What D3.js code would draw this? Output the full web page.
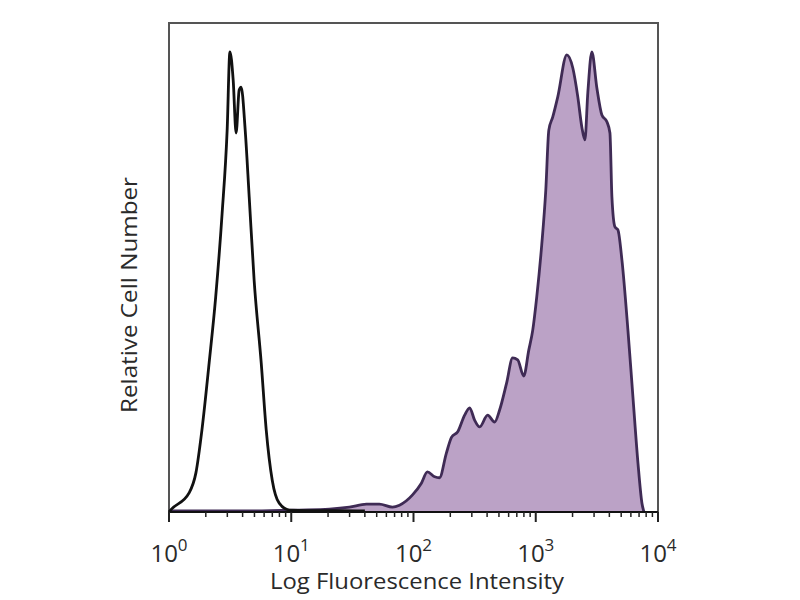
<!DOCTYPE html>
<html>
<head>
<meta charset="utf-8">
<script src="https://cdn.jsdelivr.net/npm/d3@7"></script>
<style>
  body { margin: 0; background: #fff; }
  svg { display: block; }
</style>
</head>
<body>
<div id="chart"></div>
<script>
"use strict";

// control (unstained) histogram: [intensity, relative count]
const controlData = [
  [1.0, 0], [1.03, 0.4], [1.46, 3.9], [1.66, 8.0], [1.86, 16.8], [2.13, 30.5],
  [2.41, 44.0], [2.72, 61.1], [2.99, 78.1], [3.15, 94.1], [3.35, 88.3],
  [3.54, 77.5], [3.75, 86.3], [3.89, 86.9], [4.2, 78.1], [4.53, 64.4],
  [4.97, 47.4], [5.68, 30.5], [6.24, 16.8], [6.99, 6.5], [7.97, 1.8],
  [9.63, 0.4], [13.3, 0.3], [25, 0.3], [40, 0.2]
];

// stained histogram
const stainedData = [
  [1.0, 0.2], [4.53, 0.2], [11.6, 0.4], [20.5, 0.6], [29.9, 1.0], [41.2, 1.6],
  [52.6, 1.6], [67.3, 1.0], [76.8, 1.4], [98.2, 3.5], [116, 5.9], [130, 8.2],
  [149, 7.2], [163, 7.0], [186, 12.1], [205, 15.3], [230, 16.4], [262, 19.8],
  [288, 21.3], [316, 18.8], [348, 17.4], [404, 19.8], [461, 18.4], [507, 20.9],
  [578, 26.4], [647, 31.5], [712, 31.1], [797, 27.8], [877, 33.1], [945, 37.2],
  [1019, 44.0], [1119, 54.6], [1208, 65.8], [1279, 78.1], [1378, 80.8],
  [1514, 84.9], [1795, 93.5], [2010, 90.8], [2208, 84.9], [2383, 78.7],
  [2523, 76.1], [2669, 85.9], [2877, 94.1], [3162, 86.7], [3475, 81.2],
  [3819, 79.8], [4044, 77.5], [4198, 64.4], [4446, 58.3], [4700, 57.7],
  [5070, 51.5], [5675, 37.2], [6238, 23.5], [6857, 10.0], [7389, 1.8], [7680, 0]
];

const majorTicks = [1, 10, 100, 1000, 10000];
const tickExponents = ["0", "1", "2", "3", "4"];
const xTitle = "Log Fluorescence Intensity";
const yTitle = "Relative Cell Number";

const margin = { top: 23, right: 142, bottom: 88, left: 169 };
const width = 800 - margin.left - margin.right;
const height = 600 - margin.top - margin.bottom;

const svg = d3
  .select("#chart")
  .append("svg")
  .attr("width", 800)
  .attr("height", 600);

const g = svg
  .append("g")
  .attr("transform", `translate(${margin.left},${margin.top})`);

const x = d3.scaleLog().domain([1, 10000]).range([0, width]);
const y = d3.scaleLinear().domain([0, 100]).range([height, 0]);

// frame
g.append("rect")
  .attr("x", 0)
  .attr("y", 0)
  .attr("width", width)
  .attr("height", height)
  .attr("fill", "none")
  .attr("stroke", "#555")
  .attr("stroke-width", 2);

// stained histogram, filled
const area = d3
  .area()
  .x((d) => x(d[0]))
  .y0(y(0))
  .y1((d) => y(d[1]))
  .curve(d3.curveMonotoneX);

const line = d3
  .line()
  .x((d) => x(d[0]))
  .y((d) => y(d[1]))
  .curve(d3.curveMonotoneX);

g.append("path")
  .datum(stainedData)
  .attr("d", area)
  .attr("fill", "#bba2c6");

g.append("path")
  .datum(stainedData)
  .attr("d", line)
  .attr("fill", "none")
  .attr("stroke", "#3f2b55")
  .attr("stroke-width", 2.8)
  .attr("stroke-linejoin", "round");

// control histogram, outline only
g.append("path")
  .datum(controlData)
  .attr("d", line)
  .attr("fill", "none")
  .attr("stroke", "#111")
  .attr("stroke-width", 2.8)
  .attr("stroke-linejoin", "round");

// bottom axis with log minor ticks
const minorTicks = x.ticks().filter((d) => !majorTicks.includes(d));

const axis = g.append("g").attr("transform", `translate(0,${height})`);

axis
  .append("line")
  .attr("x1", 0)
  .attr("x2", width)
  .attr("stroke", "#111")
  .attr("stroke-width", 2);

axis
  .selectAll(".minor")
  .data(minorTicks)
  .enter()
  .append("line")
  .attr("class", "minor")
  .attr("x1", (d) => x(d))
  .attr("x2", (d) => x(d))
  .attr("y1", 0)
  .attr("y2", 5)
  .attr("stroke", "#222")
  .attr("stroke-width", 1.5);

axis
  .selectAll(".major")
  .data(majorTicks)
  .enter()
  .append("line")
  .attr("class", "major")
  .attr("x1", (d) => x(d))
  .attr("x2", (d) => x(d))
  .attr("y1", 0)
  .attr("y2", 10)
  .attr("stroke", "#222")
  .attr("stroke-width", 2);

const labels = axis
  .selectAll(".tick-label")
  .data(majorTicks)
  .enter()
  .append("text")
  .attr("class", "tick-label")
  .attr("x", (d) => x(d))
  .attr("y", 50)
  .attr("text-anchor", "middle")
  .attr("font-family", "Open Sans, sans-serif")
  .attr("font-size", 24)
  .attr("fill", "#2a2a2a");

labels.append("tspan").text("10");
labels
  .append("tspan")
  .attr("dy", -11)
  .attr("font-size", 17)
  .text((d, i) => tickExponents[i]);

// titles
svg
  .append("text")
  .attr("x", 417)
  .attr("y", 589)
  .attr("text-anchor", "middle")
  .attr("font-family", "Open Sans, sans-serif")
  .attr("font-size", 21)
  .attr("textLength", 294)
  .attr("lengthAdjust", "spacingAndGlyphs")
  .attr("fill", "#2a2a2a")
  .text(xTitle);

svg
  .append("text")
  .attr("transform", "translate(137,295) rotate(-90)")
  .attr("text-anchor", "middle")
  .attr("font-family", "Open Sans, sans-serif")
  .attr("font-size", 21)
  .attr("textLength", 236)
  .attr("lengthAdjust", "spacingAndGlyphs")
  .attr("fill", "#2a2a2a")
  .text(yTitle);
</script>
</body>
</html>
